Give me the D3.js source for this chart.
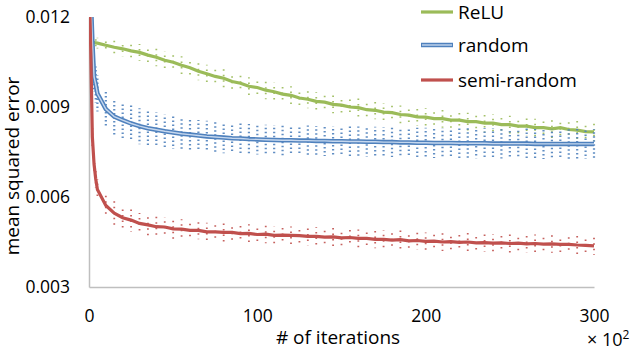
<!doctype html>
<html>
  <head>
    <script src="https://d3js.org/d3.v7.min.js"></script>
    <style>
      body { margin: 0; background: #fff; }
      text { font-family: "Open Sans", "Lato", sans-serif; fill: #000; }
    </style>
  </head>
  <body>
    <script>
      /********** data (x in units of 10^2 iterations) **********/
      var iterations = [0, 1, 2, 3, 4, 5, 10, 15, 20, 25, 30, 35, 40, 45, 50, 55, 60, 65, 70, 75,
        80, 85, 90, 95, 100, 105, 110, 115, 120, 125, 130, 135, 140, 145, 150, 155, 160, 165, 170, 175,
        180, 185, 190, 195, 200, 205, 210, 215, 220, 225, 230, 235, 240, 245, 250, 255, 260, 265, 270, 275,
        280, 285, 290, 295, 300];

      var reluMean = [0.01117, 0.01118, 0.01116, 0.01115, 0.01114, 0.01113, 0.01106, 0.01099, 0.01094, 0.01087,
        0.01082, 0.01073, 0.01066, 0.01056, 0.01049, 0.01039, 0.01031, 0.01019, 0.01011, 0.01002,
        0.00996, 0.00985, 0.00979, 0.00969, 0.00965, 0.00956, 0.00951, 0.00943, 0.00939, 0.00930,
        0.00926, 0.00919, 0.00916, 0.00909, 0.00906, 0.00900, 0.00898, 0.00891, 0.00889, 0.00883,
        0.00881, 0.00875, 0.00873, 0.00867, 0.00866, 0.00861, 0.00861, 0.00856, 0.00856, 0.00851,
        0.00851, 0.00846, 0.00846, 0.00841, 0.00841, 0.00836, 0.00836, 0.00831, 0.00831, 0.00827,
        0.00831, 0.00825, 0.00823, 0.00818, 0.00817];
      var reluErr = [0.0001, 0.0001, 0.00012, 0.00015, 0.00015, 0.00018, 0.0002, 0.00022, 0.00025, 0.00025,
        0.00028, 0.00028, 0.0003, 0.0003, 0.0003, 0.0003, 0.0003, 0.0003, 0.0003, 0.0003,
        0.0003, 0.0003, 0.0003, 0.0003, 0.0003, 0.0003, 0.0003, 0.0003, 0.0003, 0.0003,
        0.0003, 0.0003, 0.0003, 0.0003, 0.0003, 0.0003, 0.0003, 0.0003, 0.0003, 0.0003,
        0.0003, 0.0003, 0.0003, 0.0003, 0.0003, 0.0003, 0.0003, 0.0003, 0.0003, 0.0003,
        0.0003, 0.0003, 0.0003, 0.0003, 0.0003, 0.0003, 0.0003, 0.0003, 0.0003, 0.0003,
        0.0003, 0.0003, 0.0003, 0.0003, 0.0003];

      var randomMean = [0.0135, 0.0128, 0.0112, 0.0100, 0.00975, 0.00945, 0.00893, 0.00868, 0.00856, 0.00845,
        0.00836, 0.00829, 0.00824, 0.00819, 0.00815, 0.00811, 0.00808, 0.00805, 0.00802, 0.00800,
        0.00798, 0.00796, 0.00795, 0.00793, 0.00792, 0.00791, 0.00790, 0.00789, 0.00789, 0.00788,
        0.00788, 0.00787, 0.00787, 0.00786, 0.00786, 0.00785, 0.00785, 0.00784, 0.00784, 0.00783,
        0.00783, 0.00782, 0.00782, 0.00781, 0.00781, 0.00780, 0.00780, 0.00780, 0.00779, 0.00779,
        0.00779, 0.00779, 0.00778, 0.00778, 0.00778, 0.00778, 0.00778, 0.00777, 0.00777, 0.00777,
        0.00777, 0.00777, 0.00777, 0.00777, 0.00777];
      var randomErr = [0.0003, 0.0003, 0.0004, 0.0005, 0.0006, 0.0006, 0.0006, 0.0006, 0.0006, 0.0006,
        0.0006, 0.0006, 0.00058, 0.00055, 0.00055, 0.00055, 0.00055, 0.00052, 0.00052, 0.00052,
        0.00052, 0.0005, 0.0005, 0.0005, 0.0005, 0.0005, 0.0005, 0.0005, 0.0005, 0.0005,
        0.0005, 0.0005, 0.0005, 0.0005, 0.0005, 0.0005, 0.0005, 0.0005, 0.0005, 0.0005,
        0.0005, 0.0005, 0.0005, 0.0005, 0.0005, 0.0005, 0.0005, 0.0005, 0.0005, 0.0005,
        0.0005, 0.0005, 0.0005, 0.0005, 0.0005, 0.0005, 0.0005, 0.0005, 0.0005, 0.0005,
        0.0005, 0.0005, 0.0005, 0.0005, 0.0005];

      var semiMean = [0.0135, 0.0110, 0.0080, 0.0071, 0.0066, 0.00625, 0.00572, 0.00546, 0.00531, 0.00523,
        0.00512, 0.00507, 0.00501, 0.00500, 0.00494, 0.00493, 0.00489, 0.00489, 0.00484, 0.00484,
        0.00482, 0.00482, 0.00478, 0.00479, 0.00475, 0.00476, 0.00472, 0.00473, 0.00472, 0.00471,
        0.00469, 0.00469, 0.00466, 0.00467, 0.00464, 0.00465, 0.00462, 0.00462, 0.00459, 0.00459,
        0.00456, 0.00458, 0.00454, 0.00455, 0.00452, 0.00453, 0.00450, 0.00451, 0.00449, 0.00450,
        0.00447, 0.00448, 0.00446, 0.00447, 0.00445, 0.00446, 0.00444, 0.00445, 0.00443, 0.00444,
        0.00442, 0.00442, 0.00440, 0.00439, 0.00437];
      var semiErr = [0.0002, 0.0002, 0.0003, 0.0003, 0.0003, 0.00035, 0.0004, 0.0004, 0.0004, 0.0004,
        0.00035, 0.00035, 0.00035, 0.00033, 0.00033, 0.00033, 0.00033, 0.0003, 0.0003, 0.0003,
        0.0003, 0.0003, 0.0003, 0.0003, 0.0003, 0.0003, 0.0003, 0.0003, 0.0003, 0.0003,
        0.0003, 0.0003, 0.0003, 0.0003, 0.0003, 0.0003, 0.0003, 0.0003, 0.0003, 0.0003,
        0.0003, 0.0003, 0.0003, 0.0003, 0.0003, 0.0003, 0.0003, 0.0003, 0.0003, 0.0003,
        0.0003, 0.0003, 0.0003, 0.0003, 0.0003, 0.0003, 0.0003, 0.0003, 0.0003, 0.0003,
        0.0003, 0.0003, 0.0003, 0.0003, 0.0003];

      var seriesNames = ["ReLU", "random", "semi-random"];
      var yTicks = [0.003, 0.006, 0.009, 0.012];
      var xTicks = [0, 100, 200, 300];

      /********** layout **********/
      var width = 640, height = 350;
      var colors = { "ReLU": "#9bbb59", "random": "#4f81bd", "semi-random": "#c0504d" };

      var x = d3.scaleLinear().domain([0, 300]).range([89, 594]);
      var y = d3.scaleLinear().domain([0.003, 0.012]).range([287, 17]);

      var svg = d3.select("body").append("svg")
        .attr("width", width)
        .attr("height", height);

      svg.append("defs").append("clipPath").attr("id", "plot")
        .append("rect")
        .attr("x", x(0)).attr("y", y(0.012))
        .attr("width", x(300) - x(0) + 4).attr("height", y(0.003) - y(0.012));

      // axes: plain grey lines, labels only
      var yAxis = svg.append("g").attr("transform", "translate(" + x(0) + ",0)")
        .call(d3.axisLeft(y).tickValues(yTicks).tickSize(0).tickPadding(19).tickFormat(d3.format(".3f")));
      var xAxis = svg.append("g").attr("transform", "translate(0," + y(0.003) + ")")
        .call(d3.axisBottom(x).tickValues(xTicks).tickSize(0).tickPadding(23).tickFormat(d3.format("d")));
      [yAxis, xAxis].forEach(function (g) {
        g.select(".domain").attr("stroke", "#bfbfbf").attr("stroke-width", 1.5);
        g.selectAll("text").style("font-size", "17.5px").style("font-family", "'Open Sans', sans-serif");
      });

      /********** series **********/
      var series = [
        { name: "ReLU", mean: reluMean, err: reluErr },
        { name: "random", mean: randomMean, err: randomErr },
        { name: "semi-random", mean: semiMean, err: semiErr }
      ];

      var plot = svg.append("g").attr("clip-path", "url(#plot)");

      var line = d3.line()
        .x(function (d) { return x(d.x); })
        .y(function (d) { return y(d.m); });

      series.forEach(function (s) {
        var pts = iterations.map(function (it, i) { return { x: it, m: s.mean[i], e: s.err[i] }; });
        var g = plot.append("g").attr("class", "series");

        // dotted error bars, dash phase shifted per bar so the dots don't line up in rows
        g.selectAll("line.err")
          .data(pts.filter(function (d) { return d.x >= 2; }))
          .enter().append("line")
          .attr("class", "err")
          .attr("x1", function (d) { return x(d.x); })
          .attr("x2", function (d) { return x(d.x); })
          .attr("y1", function (d) { return y(d.m + d.e); })
          .attr("y2", function (d) { return y(d.m - d.e); })
          .attr("stroke", colors[s.name])
          .attr("stroke-width", s.name === "random" ? 2.2 : 1.8)
          .attr("stroke-dasharray", s.name === "random" ? "1.5,2.5" : "1.5,4")
          .attr("stroke-dashoffset", function (d, i) { return (i * 2.3) % 6; })
          .attr("opacity", 0.9);

        if (s.name === "random") {
          g.append("path").datum(pts).attr("d", line)
            .attr("fill", "none").attr("stroke", colors[s.name]).attr("stroke-width", 4.5);
          g.append("path").datum(pts).attr("d", line)
            .attr("fill", "none").attr("stroke", "#c5d7ee").attr("stroke-width", 1.4);
        } else {
          g.append("path").datum(pts).attr("d", line)
            .attr("fill", "none").attr("stroke", colors[s.name]).attr("stroke-width", 3.2);
        }
      });

      /********** legend **********/
      var legend = svg.append("g");
      var legendY = [12, 45, 80];
      seriesNames.forEach(function (name, i) {
        var row = legend.append("g").attr("transform", "translate(421," + legendY[i] + ")");
        row.append("line").attr("x1", 0).attr("x2", 32)
          .attr("stroke", colors[name]).attr("stroke-width", name === "random" ? 4.5 : 3.2);
        if (name === "random") {
          row.append("line").attr("x1", 1).attr("x2", 31)
            .attr("stroke", "#c5d7ee").attr("stroke-width", 1.4);
        }
        row.append("text").attr("x", 37).attr("dy", "0.35em")
          .style("font-size", "19px").text(name);
      });

      /********** axis titles **********/
      svg.append("text")
        .attr("transform", "translate(19,166) rotate(-90)")
        .attr("text-anchor", "middle")
        .style("font-size", "19px")
        .text("mean squared error");

      svg.append("text")
        .attr("x", 338).attr("y", 344)
        .attr("text-anchor", "middle")
        .style("font-size", "19px")
        .text("# of iterations");

      var mult = svg.append("text").attr("x", 587).attr("y", 346).style("font-size", "18px");
      mult.append("tspan").text("\u00d7 10");
      mult.append("tspan").attr("dy", -7).style("font-size", "12px").text("2");
    </script>
  </body>
</html>
